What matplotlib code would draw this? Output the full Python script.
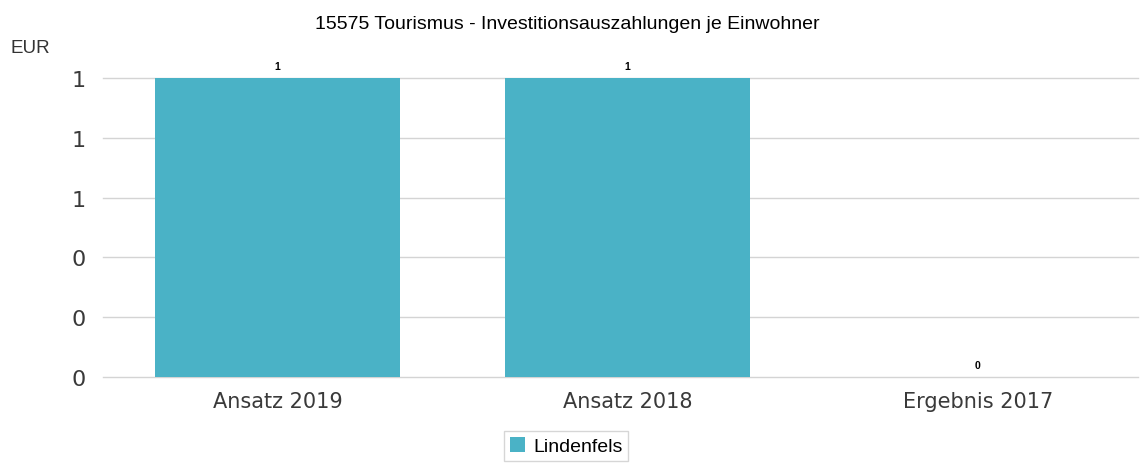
import matplotlib.pyplot as plt
import numpy as np

# =========================
# Daten
# =========================
categories = ["Ansatz 2019", "Ansatz 2018", "Ergebnis 2017"]
values = [1.0, 1.0, 0.0]
value_labels = ["1", "1", "0"]
y_ticks = [0, 0.2, 0.4, 0.6, 0.8, 1.0]
y_tick_labels = ["0", "0", "0", "1", "1", "1"]
series_name = "Lindenfels"

bar_color = "#4ab2c6"
grid_color = "#d4d4d4"

# =========================
# Plot
# =========================
fig = plt.figure(figsize=(11.41, 4.64), dpi=100)
ax = fig.add_axes([0.090, 0.185, 0.907, 0.645])

x = np.arange(len(categories))
bars = ax.bar(x, values, width=0.7, color=bar_color, label=series_name, zorder=2)

ax.set_xlim(-0.5, 2.457)
ax.set_ylim(0, 1)
ax.set_yticks(y_ticks)
ax.set_yticklabels(y_tick_labels, fontsize=16, color="#3a3a3a", family="DejaVu Sans")
ax.set_xticks(x)
ax.set_xticklabels(categories, fontsize=15, color="#3a3a3a", family="DejaVu Sans")
ax.tick_params(axis="both", length=0)
ax.tick_params(axis="y", pad=12)
ax.tick_params(axis="x", pad=10)
ax.yaxis.grid(True, color=grid_color, linewidth=1, zorder=0)
for line in ax.get_ygridlines():
    line.set_clip_on(False)
for s in ax.spines.values():
    s.set_visible(False)

for xi, v, lab in zip(x, values, value_labels):
    ax.annotate(lab, (xi, v), xytext=(0, 5), textcoords="offset points",
                ha="center", va="bottom", fontsize=7.5, family="Liberation Sans",
                fontweight="bold")

fig.text(0.497, 0.947, "15575 Tourismus - Investitionsauszahlungen je Einwohner",
         ha="center", va="center", fontsize=14, family="Liberation Sans")
fig.text(0.009, 0.896, "EUR", ha="left", va="center", fontsize=13.5,
         family="Liberation Sans", color="#333333")

leg = fig.legend(handles=[bars], labels=[series_name], loc="upper center",
                 bbox_to_anchor=(0.496, 0.068), frameon=True, fancybox=False,
                 prop={"family": "Liberation Sans", "size": 14},
                 handlelength=0.8, handleheight=0.8, handletextpad=0.4,
                 borderpad=0.3, borderaxespad=0)
leg.get_frame().set_edgecolor("#cccccc")
leg.get_frame().set_linewidth(1)

plt.savefig("out.png", dpi=100)
